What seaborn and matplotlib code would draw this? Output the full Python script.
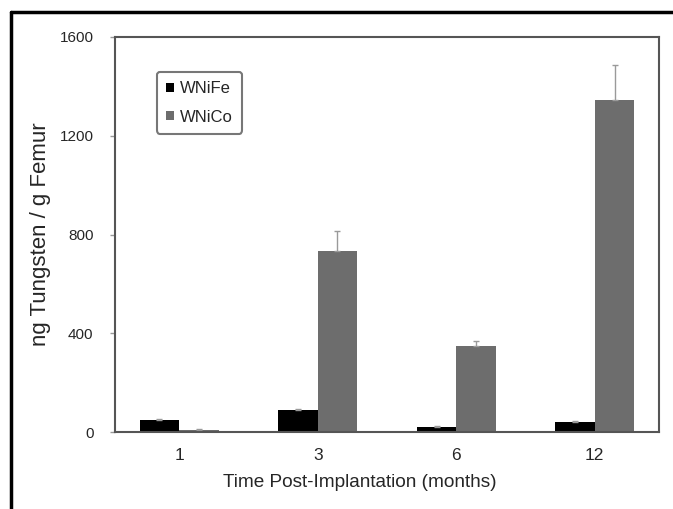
import pandas as pd
import numpy as np
import seaborn as sns
import matplotlib.pyplot as plt
from matplotlib.lines import Line2D

# data
months = ['1', '3', '6', '12']
wnife = [50, 88, 20, 40]
wnico = [8, 733, 348, 1345]
wnife_err = [4, 5, 3, 4]
wnico_err = [6, 80, 22, 140]

df = pd.DataFrame({
    'month': months * 2,
    'value': wnife + wnico,
    'alloy': ['WNiFe'] * 4 + ['WNiCo'] * 4,
})

sns.set_style('white')
plt.rcParams['font.family'] = ['Liberation Sans', 'DejaVu Sans']

fig = plt.figure(figsize=(6.73, 5.09), dpi=100)
ax = fig.add_axes([115 / 673, 1 - 432 / 509, 544 / 673, 395 / 509])

sns.barplot(data=df, x='month', y='value', hue='alloy', order=months,
            hue_order=['WNiFe', 'WNiCo'], palette=['#000000', '#6d6d6d'],
            width=0.57, gap=0, errorbar=None, saturation=1, ax=ax,
            edgecolor='none')

# error bars (upper only, excel style)
for cont, errs in zip(ax.containers, [wnife_err, wnico_err]):
    xs = [p.get_x() + p.get_width() / 2 for p in cont.patches]
    ys = [p.get_height() for p in cont.patches]
    ax.errorbar(xs, ys, yerr=[np.zeros(len(errs)), errs], fmt='none',
                ecolor='#9a9a9a', elinewidth=1, capsize=2, capthick=1)

ax.set_ylim(0, 1600)
ax.set_yticks([0, 400, 800, 1200, 1600])
ax.set_xlabel('Time Post-Implantation (months)', fontsize=13.7, labelpad=8)
ax.xaxis.label.set_x(0.45)
ax.set_ylabel('ng Tungsten / g Femur', fontsize=16, labelpad=6)
ax.tick_params(axis='y', left=True, length=3.5, width=1, color='#999999',
               labelsize=11, pad=12)
ax.tick_params(axis='x', bottom=False, labelsize=12.5, pad=8)
for s in ax.spines.values():
    s.set_color('#555555')
    s.set_linewidth(1.5)

leg = ax.legend(loc='upper left', bbox_to_anchor=(0.077, 0.911),
                borderaxespad=0, fontsize=12, frameon=True,
                handlelength=0.5, handleheight=0.5, handletextpad=0.35,
                labelspacing=0.8, borderpad=0.55, fancybox=True)
leg.get_frame().set_edgecolor('#555555')
leg.get_frame().set_linewidth(1.5)

# outer frame of the figure (left and top edges)
fig.add_artist(Line2D([11 / 673, 11 / 673], [0, 1 - 12 / 509], color='black', lw=2.5))
fig.add_artist(Line2D([11 / 673, 1], [1 - 12 / 509, 1 - 12 / 509], color='black', lw=2.5))

fig.savefig('out.png', dpi=100)
